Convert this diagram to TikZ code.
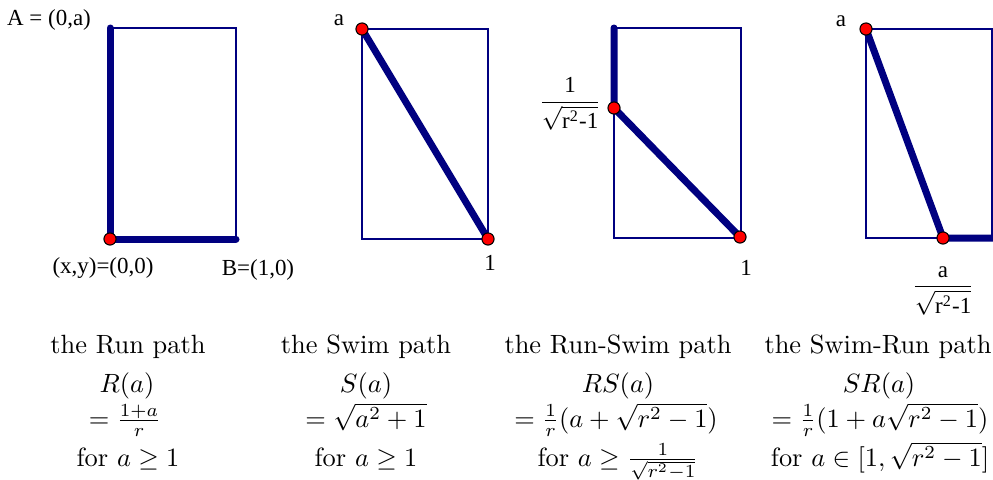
\documentclass[tikz,border=0pt]{standalone}
\usepackage{amsmath}
\usepackage{fontspec}
\newfontfamily\tms{Liberation Serif}
\definecolor{pathblue}{RGB}{0,0,128}
\begin{document}
\begin{tikzpicture}[x=0.3788pt,y=-0.3788pt,
  box/.style={draw=pathblue,line width=0.57pt},
  route/.style={draw=pathblue,line width=2.65pt,line cap=round,line join=round},
  dot/.style={circle,fill=red,draw=black,line width=0.4pt,inner sep=0pt,minimum size=4.6pt},
  lab/.style={font=\tms\fontsize{8.7}{10}\selectfont,inner sep=0pt},
  capt/.style={font=\fontsize{10}{12}\selectfont,inner sep=0pt,anchor=base}]
\useasboundingbox (0,0) rectangle (993,479);

% ---------- panel 1: Run path ----------
\coordinate (p1tl) at (110,28);
\coordinate (p1br) at (236,239);
\coordinate (p1o) at (110,239);
\draw[box] (p1tl) rectangle (p1br);
\draw[route] (p1tl) -- (p1o) -- (p1br);
\node[dot] (d1) at (p1o) {};
\node[lab] (l1a) at (49,20) {A = (0,a)};
\node[lab] (l1b) at (103,268) {(x,y)=(0,0)};
\node[lab] (l1c) at (258,270) {B=(1,0)};

% ---------- panel 2: Swim path ----------
\coordinate (p2tl) at (362,29);
\coordinate (p2br) at (488,239);
\draw[box] (p2tl) rectangle (p2br);
\draw[route] (p2tl) -- (p2br);
\node[dot] (d2a) at (p2tl) {};
\node[dot] (d2b) at (p2br) {};
\node[lab] (l2a) at (339,20) {a};
\node[lab] (l2b) at (490,263) {1};

% ---------- panel 3: Run-Swim path ----------
\coordinate (p3tl) at (614,28);
\coordinate (p3br) at (741,238);
\coordinate (p3k) at (614,108);
\coordinate (p3e) at (740,237);
\draw[box] (p3tl) rectangle (p3br);
\draw[route] (p3tl) -- (p3k) -- (p3e);
\node[dot] (d3a) at (p3k) {};
\node[dot] (d3b) at (p3e) {};
\node[lab] (l3a) at (570,104) {$\dfrac{\text{\tms 1}}{\sqrt{\text{\tms r}^{\text{\tms 2}}\text{\tms -1}}}$};
\node[lab] (l3b) at (746,268) {1};

% ---------- panel 4: Swim-Run path ----------
\coordinate (p4tl) at (866,29);
\coordinate (p4br) at (992,238);
\coordinate (p4k) at (943,238);
\coordinate (p4e) at (996,238);
\draw[box] (p4tl) rectangle (p4br);
\draw[route] (p4tl) -- (p4k) -- (p4e);
\node[dot] (d4a) at (p4tl) {};
\node[dot] (d4b) at (p4k) {};
\node[lab] (l4a) at (841,21) {a};
\node[lab] (l4b) at (943,291) {$\dfrac{\text{\tms a}}{\sqrt{\text{\tms r}^{\text{\tms 2}}\text{\tms -1}}}$};

% ---------- captions ----------
\node[capt] (c1a) at (128,353) {the Run path};
\node[capt] (c1b) at (127,392) {$R(a)$};
\node[capt] (c1c) at (125,427) {$=\frac{1+a}{r}$};
\node[capt] (c1d) at (128,466) {for $a\geq 1$};

\node[capt] (c2a) at (366,353) {the Swim path};
\node[capt] (c2b) at (366,392) {$S(a)$};
\node[capt] (c2c) at (366,427) {$=\sqrt{a^2+1}$};
\node[capt] (c2d) at (366,466) {for $a\geq 1$};

\node[capt] (c3a) at (618,353) {the Run-Swim path};
\node[capt] (c3b) at (618,392) {$RS(a)$};
\node[capt] (c3c) at (616,427) {$=\frac{1}{r}(a+\sqrt{r^2-1})$};
\node[capt] (c3d) at (618,466) {for $a\geq\frac{1}{\sqrt{r^2-1}}$};

\node[capt] (c4a) at (878,353) {the Swim-Run path};
\node[capt] (c4b) at (879,392) {$SR(a)$};
\node[capt] (c4c) at (880,427) {$=\frac{1}{r}(1+a\sqrt{r^2-1})$};
\node[capt] (c4d) at (880,466) {for $a\in[1,\sqrt{r^2-1}]$};
\end{tikzpicture}
\end{document}
